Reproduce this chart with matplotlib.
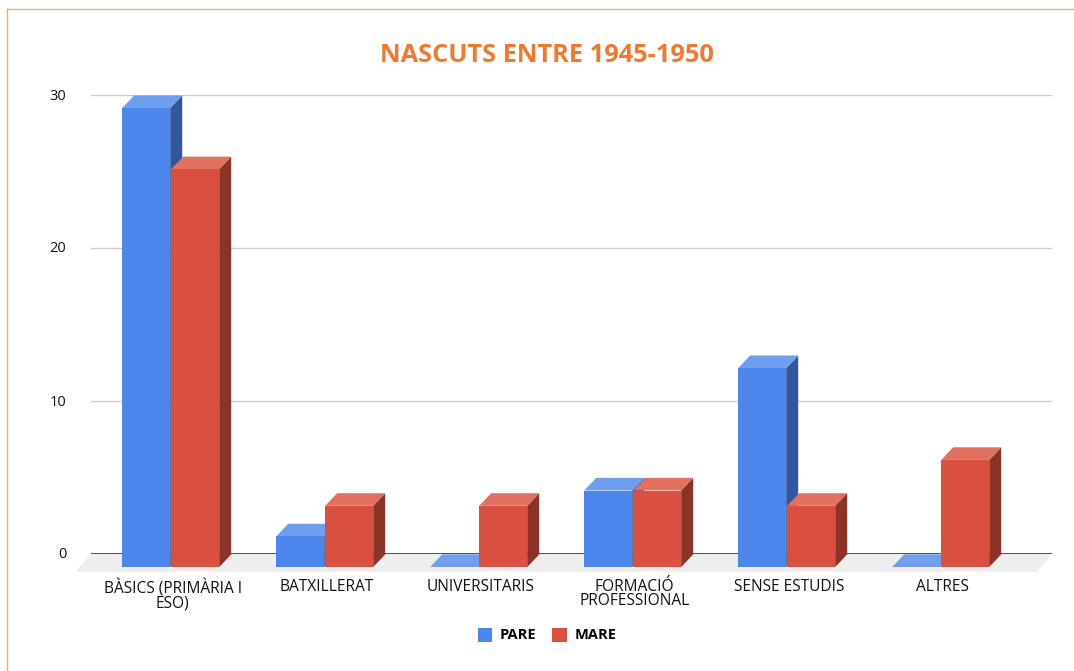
import matplotlib
matplotlib.use("Agg")
import matplotlib.pyplot as plt
from matplotlib.patches import Polygon, Patch
from matplotlib.lines import Line2D
from matplotlib.transforms import ScaledTranslation

categories = ["BÀSICS (PRIMÀRIA I\nESO)", "BATXILLERAT", "UNIVERSITARIS",
              "FORMACIÓ\nPROFESSIONAL", "SENSE ESTUDIS", "ALTRES"]
pare = [30, 2, 0, 5, 13, 0]
mare = [26, 4, 4, 5, 4, 7]
yticks = [0, 10, 20, 30]
title = "NASCUTS ENTRE 1945-1950"

W, H = 1074, 671
FONT = "Open Sans"
STEP = 154.0
fig = plt.figure(figsize=(W / 100, H / 100), dpi=100, facecolor="white")
ax = fig.add_axes([91 / W, 1 - 554 / H, (1052 - 91) / W, (554 - 95) / H])
ax.set_xlim((91 - 170.7) / STEP, (1052 - 170.7) / STEP)
ax.set_ylim(0, 30)
ax.patch.set_alpha(0)
for s in ax.spines.values():
    s.set_visible(False)

# depth of the pseudo-3D extrusion, in data units
DX = 12 / STEP
DY = 12.6 / 15.3
BW = 48 / STEP
GAP = 0.5 / STEP
FRONT_DROP = 13 / 15.3

# floor
xa, xb = ax.get_xlim()
ax.add_patch(Polygon([(xa, 0), (xb, 0), (xb - 15 / STEP, -18 / 15.3), (xa - 16 / STEP, -18 / 15.3)],
                     closed=True, fc="#eeeeee", ec="none", zorder=1, clip_on=False))
ax.set_yticks(yticks)
ax.set_yticklabels([str(v) for v in yticks], fontsize=10.5, family=FONT, color="#111111")
ax.tick_params(axis="y", length=0, pad=25)
ax.tick_params(axis="x", length=0, pad=18)
ax.yaxis.grid(True, color="#cccccc", lw=1, zorder=0)
ax.set_axisbelow(True)
ax.axhline(0, color="#333333", lw=1.2, zorder=1.5)
shift = ScaledTranslation(10 / 100, 1 / 100, fig.dpi_scale_trans)
for lab in ax.get_yticklabels():
    lab.set_transform(lab.get_transform() + shift)


def bar3d(x0, v, front, top, side, z):
    x1 = x0 + BW
    y0, y1 = -FRONT_DROP, v - FRONT_DROP
    if v > 0:
        ax.bar(x0, v, BW, bottom=y0, align="edge", color=front, zorder=z + 0.1, clip_on=False)
        ax.add_patch(Polygon([(x1, y0), (x1 + DX, y0 + DY), (x1 + DX, y1 + DY), (x1, y1)],
                             closed=True, fc=side, ec="none", zorder=z, clip_on=False))
    ax.add_patch(Polygon([(x0, y1), (x1, y1), (x1 + DX, y1 + DY), (x0 + DX, y1 + DY)],
                         closed=True, fc=top, ec="none", zorder=z, clip_on=False))


z = 2
for i, (p, m) in enumerate(zip(pare, mare)):
    bar3d(i - BW - GAP, p, "#4c86ec", "#6f9eee", "#31589c", z)
    bar3d(i + GAP, m, "#d95040", "#e07060", "#8c3327", z + 1)
    z += 2

# category labels sit on the mid-depth of each group
ax.set_xticks([i + 2 / STEP for i in range(len(categories))])
ax.set_xticklabels(categories, fontsize=11.2, family=FONT, color="#111111", linespacing=0.87)

fig.text(546.5 / W, 1 - 55 / H, title, ha="center", va="center", fontsize=18.3,
         fontweight="bold", family=FONT, color="#f4782b")

handles = [Patch(fc="#4c86ec", label="PARE"), Patch(fc="#d95040", label="MARE")]
fig.legend(handles=handles, ncol=2, loc="center", bbox_to_anchor=(547 / W, 1 - 635 / H),
           frameon=False, handlelength=1.0, handleheight=1.1, handletextpad=0.5, columnspacing=1.1,
           prop={"family": FONT, "size": 10.5, "weight": "bold"})

# page frame
fig.add_artist(Line2D([7.5 / W, 7.5 / W], [0, 1 - 9 / H], color="#f2ac70", lw=1))
fig.add_artist(Line2D([7.5 / W, 1], [1 - 9 / H, 1 - 9 / H], color="#f2ac70", lw=1))

fig.savefig("out.png", dpi=100)
